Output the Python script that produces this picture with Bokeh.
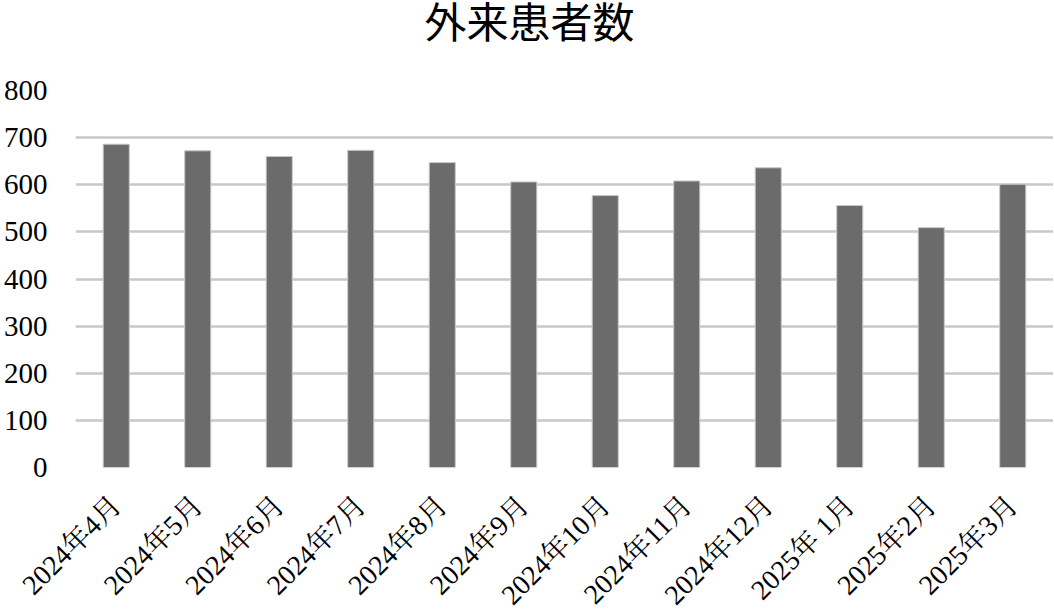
import math
from bokeh.plotting import figure
from bokeh.models import FactorRange, Range1d, FixedTicker, Title
from bokeh.embed import file_html
from bokeh.resources import INLINE

title_text = "外来患者数"
months = ["2024年4月", "2024年5月", "2024年6月", "2024年7月", "2024年8月", "2024年9月",
          "2024年10月", "2024年11月", "2024年12月", "2025年 1月", "2025年2月", "2025年3月"]
patients = [686, 672, 660, 673, 647, 606, 577, 608, 636, 556, 509, 601]
y_ticks = [0, 100, 200, 300, 400, 500, 600, 700, 800]

SERIF = "'Liberation Serif', 'Noto Serif CJK JP', 'Noto Sans CJK JP', serif"

p = figure(frame_width=978, frame_height=377, output_backend="svg", toolbar_location=None,
           x_range=FactorRange(*months, range_padding=0), y_range=Range1d(0, 800),
           min_border_left=75, min_border_right=0, min_border_top=90, min_border_bottom=0)

# empty band between the frame and the title (inner), then the title itself (outer)
p.add_layout(Title(text=" ", text_font_size="1px", standoff=48), "above")
p.add_layout(Title(text=title_text, align="left", offset=349, vertical_align="top",
                   standoff=-24, text_font="'Noto Sans CJK JP', serif",
                   text_font_size="42px", text_font_style="normal",
                   text_color="#000000"), "above")

p.vbar(x=months, top=patients, width=0.32, fill_color="#6b6b6b",
       line_color="#c8c8c8", line_width=1)

p.outline_line_color = None
p.xgrid.grid_line_color = None
p.ygrid.grid_line_color = "#c8c8c8"
p.ygrid.grid_line_width = 2.5
p.yaxis.ticker = FixedTicker(ticks=y_ticks)

p.yaxis.axis_line_color = None
p.yaxis.major_tick_line_color = None
p.yaxis.minor_tick_line_color = None
p.yaxis.major_label_text_font = SERIF
p.yaxis.major_label_text_font_size = "29px"
p.yaxis.major_label_text_color = "#000000"
p.yaxis.major_label_standoff = 22

p.xaxis.axis_line_color = None
p.xaxis.major_tick_line_color = None
p.xaxis.minor_tick_line_color = None
p.xaxis.major_label_orientation = math.pi / 4
p.xaxis.major_label_text_font = SERIF
p.xaxis.major_label_text_font_size = "28px"
p.xaxis.major_label_text_color = "#000000"
p.xaxis.major_label_standoff = 27

open("out.html", "w").write(file_html(p, INLINE))
